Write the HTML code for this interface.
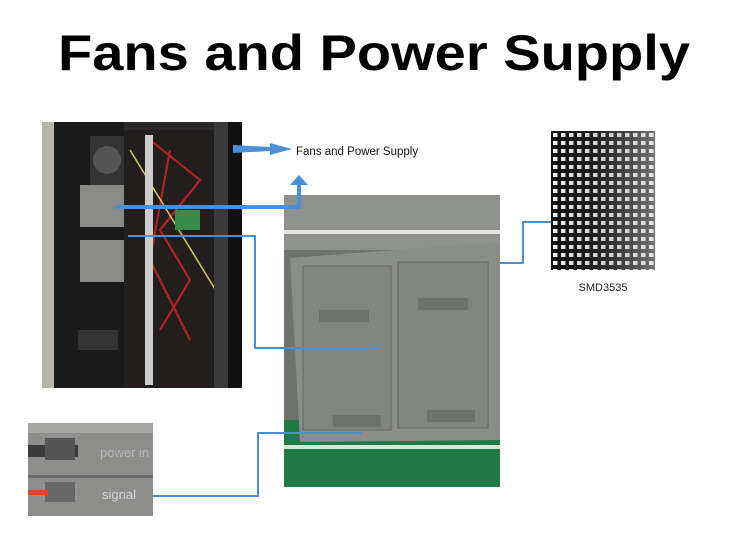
<!DOCTYPE html>
<html><head><meta charset="utf-8"><style>
html,body{margin:0;padding:0;background:#fff;}
svg{display:block;}
</style></head><body>
<svg width="750" height="551" viewBox="0 0 750 551" xmlns="http://www.w3.org/2000/svg">
<defs>
<pattern id="grid" x="551" y="131" width="8" height="8" patternUnits="userSpaceOnUse">
<rect width="8" height="8" fill="#111"/><rect x="2" y="2" width="4.5" height="4" fill="#f2f2f2"/>
</pattern>
<linearGradient id="fade" x1="0" x2="1"><stop offset="0" stop-color="#000" stop-opacity="0"/><stop offset="1" stop-color="#ddd" stop-opacity="0.5"/></linearGradient>
</defs>
<text x="58" y="70" font-family="Liberation Sans, sans-serif" font-weight="bold" font-size="50" textLength="632" lengthAdjust="spacingAndGlyphs" fill="#000">Fans and Power Supply</text>

<!-- left photo -->
<rect x="42" y="122" width="200" height="266" fill="#2a2a2a"/>
<rect x="42" y="122" width="12" height="266" fill="#b9b4a8"/>
<rect x="54" y="122" width="70" height="266" fill="#1a1a1a"/>
<rect x="90" y="136" width="35" height="50" fill="#333"/>
<circle cx="107" cy="160" r="14" fill="#555"/>
<rect x="80" y="185" width="45" height="42" fill="#8a8a88"/>
<rect x="80" y="240" width="45" height="42" fill="#8a8a88"/>
<rect x="78" y="330" width="40" height="20" fill="#333"/>
<rect x="124" y="130" width="90" height="258" fill="#231e1e"/>
<path d="M150 140 L200 180 L160 230 L190 280 L160 330 M170 150 L150 260 L190 340" stroke="#b22" stroke-width="2" fill="none"/>
<path d="M130 150 L240 330" stroke="#d8c85a" stroke-width="1.5"/>
<rect x="145" y="135" width="8" height="250" fill="#ccc"/>
<rect x="175" y="210" width="25" height="20" fill="#3a8a4a"/>
<rect x="214" y="122" width="28" height="266" fill="#3a3a3a"/>
<rect x="228" y="122" width="14" height="266" fill="#111"/>

<!-- center photo -->
<rect x="284" y="195" width="216" height="292" fill="#6f7370"/>
<rect x="284" y="195" width="216" height="55" fill="#8f918c"/>
<rect x="284" y="230" width="216" height="4" fill="#e6e6e6"/>
<rect x="284" y="420" width="216" height="67" fill="#1f7a45"/>
<rect x="284" y="445" width="216" height="4" fill="#d8e8d8"/>
<polygon points="290,258 500,242 500,440 300,442" fill="#8b8d8a"/>
<rect x="303" y="266" width="88" height="164" fill="#828481" stroke="#666" stroke-width="1"/>
<rect x="398" y="262" width="90" height="166" fill="#828481" stroke="#666" stroke-width="1"/>
<rect x="319" y="310" width="50" height="12" fill="#6f716e"/>
<rect x="418" y="298" width="50" height="12" fill="#6f716e"/>
<rect x="333" y="415" width="48" height="12" fill="#6f716e"/>
<rect x="427" y="410" width="48" height="12" fill="#6f716e"/>

<!-- right photo -->
<rect x="551" y="131" width="104" height="139" fill="url(#grid)"/>
<rect x="551" y="131" width="104" height="139" fill="url(#fade)"/>
<text x="603" y="291" text-anchor="middle" font-family="Liberation Sans, sans-serif" font-size="11" fill="#222">SMD3535</text>

<!-- bottom left photo -->
<rect x="28" y="423" width="125" height="93" fill="#8e8f8d"/>
<rect x="28" y="423" width="125" height="10" fill="#a5a6a4"/>
<rect x="28" y="475" width="125" height="3" fill="#6a6a6a"/>
<rect x="28" y="445" width="50" height="12" fill="#3a3a3a"/>
<rect x="45" y="438" width="30" height="22" fill="#555"/>
<rect x="45" y="482" width="30" height="20" fill="#666"/>
<rect x="28" y="490" width="20" height="5" fill="#d24a2a"/>
<text x="100" y="457" font-family="Liberation Sans, sans-serif" font-size="13" fill="#b5b5b5">power in</text>
<text x="102" y="499" font-family="Liberation Sans, sans-serif" font-size="13" fill="#d0d0d0">signal</text>

<!-- connectors -->
<g stroke="#4a8fd8" fill="none" stroke-width="2">
<polyline points="128,236 255,236 255,348 380,348"/>
<polyline points="153,496 258,496 258,433 362,433"/>
<polyline points="500,263 523,263 523,222 551,222"/>
</g>
<polygon points="233,145 270,147 270,143 292,149 270,155 270,151 233,153" fill="#4a8fd8"/>
<polyline points="115,207 299,207 299,183" stroke="#4a8fd8" stroke-width="4" fill="none"/>
<polygon points="290,185 299,175 308,185" fill="#4a8fd8"/>
<text x="296" y="155" font-family="Liberation Sans, sans-serif" font-size="11.5" fill="#111">Fans and Power Supply</text>
</svg>
</body></html>
